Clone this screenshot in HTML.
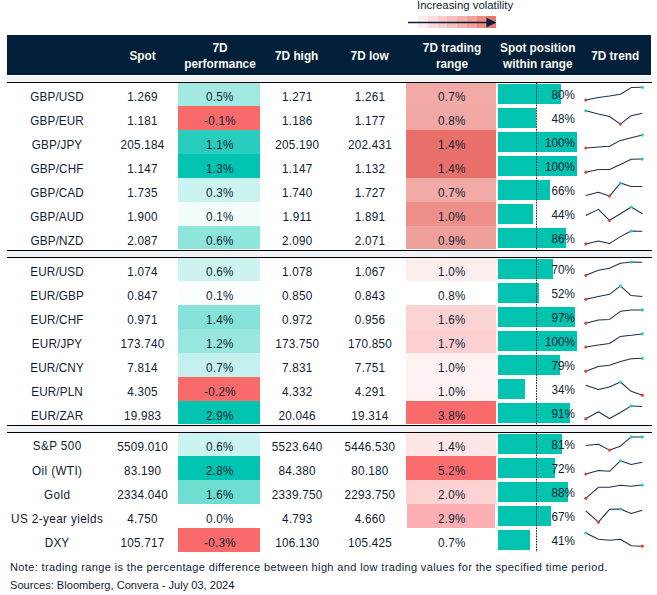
<!DOCTYPE html><html><head><meta charset="utf-8"><style>
html,body{margin:0;padding:0;background:#fff;}
body{width:657px;height:595px;position:relative;overflow:hidden;font-family:"Liberation Sans", sans-serif;color:#0e1d31;}
.a{position:absolute;}
.t{position:absolute;white-space:nowrap;font-size:11.7px;line-height:23.87px;text-align:center;transform:translateX(-50%) scaleY(1.12);}
.h{position:absolute;white-space:nowrap;font-size:11.8px;font-weight:bold;color:#fbfaf5;text-align:center;line-height:15.4px;transform:translateX(-50%) scaleY(1.1);}

</style></head><body>
<div class="a" style="left:417px;top:-1px;font-size:11.4px;line-height:13px;color:#0e1d31;white-space:nowrap;">Increasing volatility</div>
<div class="a" style="left:418.00px;top:16px;width:9.8px;height:12px;background:#fdeeee;"></div>
<div class="a" style="left:427.75px;top:16px;width:9.8px;height:12px;background:#fbdcdb;"></div>
<div class="a" style="left:437.50px;top:16px;width:9.8px;height:12px;background:#f8cdcb;"></div>
<div class="a" style="left:447.25px;top:16px;width:9.8px;height:12px;background:#f6bdba;"></div>
<div class="a" style="left:457.00px;top:16px;width:9.8px;height:12px;background:#f4b0ac;"></div>
<div class="a" style="left:466.75px;top:16px;width:9.8px;height:12px;background:#f2a19c;"></div>
<div class="a" style="left:476.50px;top:16px;width:9.8px;height:12px;background:#ee8b85;"></div>
<div class="a" style="left:486.25px;top:16px;width:9.8px;height:12px;background:#ea746d;"></div>
<svg class="a" style="left:0;top:0" width="657" height="40"><line x1="408" y1="22.5" x2="488" y2="22.5" stroke="#02203a" stroke-width="1.3"/><polygon points="486.5,17.8 496.5,22.5 486.5,27.2" fill="#02203a"/></svg>
<div class="a" style="left:7px;top:35px;width:644px;height:39.6px;background:#02203a;"></div>
<div class="a" style="left:7px;top:75.8px;width:644px;height:5.5px;background:#f0f3f5;"></div>
<div class="h" style="left:142.5px;top:48.5px;">Spot</div>
<div class="h" style="left:220px;top:41.1px;">7D<br>performance</div>
<div class="h" style="left:296.7px;top:48.5px;">7D high</div>
<div class="h" style="left:369.6px;top:48.5px;">7D low</div>
<div class="h" style="left:452px;top:41.1px;">7D trading<br>range</div>
<div class="h" style="left:537.8px;top:41.1px;">Spot position<br>within range</div>
<div class="h" style="left:615.2px;top:48.5px;">7D trend</div>
<div class="a" style="left:178px;top:82.30px;width:82px;height:23.97px;background:#a2e9e2;"></div>
<div class="a" style="left:406px;top:82.30px;width:90px;height:23.97px;background:#f2aaa7;"></div>
<div class="a" style="left:498px;top:84.10px;width:63.20px;height:19.75px;background:#01c4b0;"></div>
<div class="t" style="left:57.08px;top:84.70px;letter-spacing:0.15px;">GBP/USD</div>
<div class="t" style="left:142.62px;top:85.20px;letter-spacing:0.25px;">1.269</div>
<div class="t" style="left:219.93px;top:85.20px;letter-spacing:0.25px;">0.5%</div>
<div class="t" style="left:297.23px;top:85.20px;letter-spacing:0.25px;">1.271</div>
<div class="t" style="left:369.93px;top:85.20px;letter-spacing:0.25px;">1.261</div>
<div class="t" style="left:451.82px;top:85.20px;letter-spacing:0.25px;">0.7%</div>
<div class="t" style="left:auto;right:82px;top:83.30px;transform:scaleY(1.12);text-align:right;">80%</div>
<div class="a" style="left:178px;top:106.17px;width:82px;height:23.97px;background:#f96b6b;"></div>
<div class="a" style="left:406px;top:106.17px;width:90px;height:23.97px;background:#f1a7a3;"></div>
<div class="a" style="left:498px;top:108.07px;width:37.92px;height:19.75px;background:#01c4b0;"></div>
<div class="t" style="left:57.08px;top:108.67px;letter-spacing:0.15px;">GBP/EUR</div>
<div class="t" style="left:142.62px;top:109.17px;letter-spacing:0.25px;">1.181</div>
<div class="t" style="left:219.93px;top:109.17px;letter-spacing:0.25px;">-0.1%</div>
<div class="t" style="left:297.23px;top:109.17px;letter-spacing:0.25px;">1.186</div>
<div class="t" style="left:369.93px;top:109.17px;letter-spacing:0.25px;">1.177</div>
<div class="t" style="left:451.82px;top:109.17px;letter-spacing:0.25px;">0.8%</div>
<div class="t" style="left:auto;right:82px;top:107.17px;transform:scaleY(1.12);text-align:right;">48%</div>
<div class="a" style="left:178px;top:130.04px;width:82px;height:23.97px;background:#29cdbd;"></div>
<div class="a" style="left:406px;top:130.04px;width:90px;height:23.97px;background:#e9706a;"></div>
<div class="a" style="left:498px;top:132.04px;width:79.00px;height:19.75px;background:#01c4b0;"></div>
<div class="t" style="left:57.08px;top:132.64px;letter-spacing:0.15px;">GBP/JPY</div>
<div class="t" style="left:142.62px;top:133.14px;letter-spacing:0.25px;">205.184</div>
<div class="t" style="left:219.93px;top:133.14px;letter-spacing:0.25px;">1.1%</div>
<div class="t" style="left:297.23px;top:133.14px;letter-spacing:0.25px;">205.190</div>
<div class="t" style="left:369.93px;top:133.14px;letter-spacing:0.25px;">202.431</div>
<div class="t" style="left:451.82px;top:133.14px;letter-spacing:0.25px;">1.4%</div>
<div class="t" style="left:auto;right:82px;top:131.04px;transform:scaleY(1.12);text-align:right;">100%</div>
<div class="a" style="left:178px;top:153.91px;width:82px;height:23.97px;background:#01c4b0;"></div>
<div class="a" style="left:406px;top:153.91px;width:90px;height:23.97px;background:#e9706a;"></div>
<div class="a" style="left:498px;top:156.01px;width:79.00px;height:19.75px;background:#01c4b0;"></div>
<div class="t" style="left:57.08px;top:156.61px;letter-spacing:0.15px;">GBP/CHF</div>
<div class="t" style="left:142.62px;top:157.11px;letter-spacing:0.25px;">1.147</div>
<div class="t" style="left:219.93px;top:157.11px;letter-spacing:0.25px;">1.3%</div>
<div class="t" style="left:297.23px;top:157.11px;letter-spacing:0.25px;">1.147</div>
<div class="t" style="left:369.93px;top:157.11px;letter-spacing:0.25px;">1.132</div>
<div class="t" style="left:451.82px;top:157.11px;letter-spacing:0.25px;">1.4%</div>
<div class="t" style="left:auto;right:82px;top:154.91px;transform:scaleY(1.12);text-align:right;">100%</div>
<div class="a" style="left:178px;top:177.78px;width:82px;height:23.97px;background:#cbf3ef;"></div>
<div class="a" style="left:406px;top:177.78px;width:90px;height:23.97px;background:#f2aaa7;"></div>
<div class="a" style="left:498px;top:179.98px;width:52.14px;height:19.75px;background:#01c4b0;"></div>
<div class="t" style="left:57.08px;top:180.58px;letter-spacing:0.15px;">GBP/CAD</div>
<div class="t" style="left:142.62px;top:181.08px;letter-spacing:0.25px;">1.735</div>
<div class="t" style="left:219.93px;top:181.08px;letter-spacing:0.25px;">0.3%</div>
<div class="t" style="left:297.23px;top:181.08px;letter-spacing:0.25px;">1.740</div>
<div class="t" style="left:369.93px;top:181.08px;letter-spacing:0.25px;">1.727</div>
<div class="t" style="left:451.82px;top:181.08px;letter-spacing:0.25px;">0.7%</div>
<div class="t" style="left:auto;right:82px;top:178.78px;transform:scaleY(1.12);text-align:right;">66%</div>
<div class="a" style="left:178px;top:201.65px;width:82px;height:23.97px;background:#f3fcfb;"></div>
<div class="a" style="left:406px;top:201.65px;width:90px;height:23.97px;background:#ee8f89;"></div>
<div class="a" style="left:498px;top:203.95px;width:34.76px;height:19.75px;background:#01c4b0;"></div>
<div class="t" style="left:57.08px;top:204.55px;letter-spacing:0.15px;">GBP/AUD</div>
<div class="t" style="left:142.62px;top:205.05px;letter-spacing:0.25px;">1.900</div>
<div class="t" style="left:219.93px;top:205.05px;letter-spacing:0.25px;">0.1%</div>
<div class="t" style="left:297.23px;top:205.05px;letter-spacing:0.25px;">1.911</div>
<div class="t" style="left:369.93px;top:205.05px;letter-spacing:0.25px;">1.891</div>
<div class="t" style="left:451.82px;top:205.05px;letter-spacing:0.25px;">1.0%</div>
<div class="t" style="left:auto;right:82px;top:202.65px;transform:scaleY(1.12);text-align:right;">44%</div>
<div class="a" style="left:178px;top:225.52px;width:82px;height:23.97px;background:#8ee5dc;"></div>
<div class="a" style="left:406px;top:225.52px;width:90px;height:23.97px;background:#f0a09b;"></div>
<div class="a" style="left:498px;top:227.92px;width:67.94px;height:19.75px;background:#01c4b0;"></div>
<div class="t" style="left:57.08px;top:228.52px;letter-spacing:0.15px;">GBP/NZD</div>
<div class="t" style="left:142.62px;top:229.02px;letter-spacing:0.25px;">2.087</div>
<div class="t" style="left:219.93px;top:229.02px;letter-spacing:0.25px;">0.6%</div>
<div class="t" style="left:297.23px;top:229.02px;letter-spacing:0.25px;">2.090</div>
<div class="t" style="left:369.93px;top:229.02px;letter-spacing:0.25px;">2.071</div>
<div class="t" style="left:451.82px;top:229.02px;letter-spacing:0.25px;">0.9%</div>
<div class="t" style="left:auto;right:82px;top:226.52px;transform:scaleY(1.12);text-align:right;">86%</div>
<div class="a" style="left:178px;top:257.30px;width:82px;height:23.97px;background:#cdf3f0;"></div>
<div class="a" style="left:406px;top:257.30px;width:90px;height:23.97px;background:#fdeeee;"></div>
<div class="a" style="left:498px;top:259.10px;width:55.30px;height:19.75px;background:#01c4b0;"></div>
<div class="t" style="left:57.08px;top:259.70px;letter-spacing:0.15px;">EUR/USD</div>
<div class="t" style="left:142.62px;top:260.20px;letter-spacing:0.25px;">1.074</div>
<div class="t" style="left:219.93px;top:260.20px;letter-spacing:0.25px;">0.6%</div>
<div class="t" style="left:297.23px;top:260.20px;letter-spacing:0.25px;">1.078</div>
<div class="t" style="left:369.93px;top:260.20px;letter-spacing:0.25px;">1.067</div>
<div class="t" style="left:451.82px;top:260.20px;letter-spacing:0.25px;">1.0%</div>
<div class="t" style="left:auto;right:82px;top:258.30px;transform:scaleY(1.12);text-align:right;">70%</div>
<div class="a" style="left:178px;top:281.17px;width:82px;height:23.97px;background:#fafefd;"></div>
<div class="a" style="left:406px;top:281.17px;width:90px;height:23.97px;background:#ffffff;"></div>
<div class="a" style="left:498px;top:283.07px;width:41.08px;height:19.75px;background:#01c4b0;"></div>
<div class="t" style="left:57.08px;top:283.67px;letter-spacing:0.15px;">EUR/GBP</div>
<div class="t" style="left:142.62px;top:284.17px;letter-spacing:0.25px;">0.847</div>
<div class="t" style="left:219.93px;top:284.17px;letter-spacing:0.25px;">0.1%</div>
<div class="t" style="left:297.23px;top:284.17px;letter-spacing:0.25px;">0.850</div>
<div class="t" style="left:369.93px;top:284.17px;letter-spacing:0.25px;">0.843</div>
<div class="t" style="left:451.82px;top:284.17px;letter-spacing:0.25px;">0.8%</div>
<div class="t" style="left:auto;right:82px;top:282.17px;transform:scaleY(1.12);text-align:right;">52%</div>
<div class="a" style="left:178px;top:305.04px;width:82px;height:23.97px;background:#86e3d9;"></div>
<div class="a" style="left:406px;top:305.04px;width:90px;height:23.97px;background:#fcd3d3;"></div>
<div class="a" style="left:498px;top:307.04px;width:76.63px;height:19.75px;background:#01c4b0;"></div>
<div class="t" style="left:57.08px;top:307.64px;letter-spacing:0.15px;">EUR/CHF</div>
<div class="t" style="left:142.62px;top:308.14px;letter-spacing:0.25px;">0.971</div>
<div class="t" style="left:219.93px;top:308.14px;letter-spacing:0.25px;">1.4%</div>
<div class="t" style="left:297.23px;top:308.14px;letter-spacing:0.25px;">0.972</div>
<div class="t" style="left:369.93px;top:308.14px;letter-spacing:0.25px;">0.956</div>
<div class="t" style="left:451.82px;top:308.14px;letter-spacing:0.25px;">1.6%</div>
<div class="t" style="left:auto;right:82px;top:306.04px;transform:scaleY(1.12);text-align:right;">97%</div>
<div class="a" style="left:178px;top:328.91px;width:82px;height:23.97px;background:#98e7df;"></div>
<div class="a" style="left:406px;top:328.91px;width:90px;height:23.97px;background:#fccfd0;"></div>
<div class="a" style="left:498px;top:331.01px;width:79.00px;height:19.75px;background:#01c4b0;"></div>
<div class="t" style="left:57.08px;top:331.61px;letter-spacing:0.15px;">EUR/JPY</div>
<div class="t" style="left:142.62px;top:332.11px;letter-spacing:0.25px;">173.740</div>
<div class="t" style="left:219.93px;top:332.11px;letter-spacing:0.25px;">1.2%</div>
<div class="t" style="left:297.23px;top:332.11px;letter-spacing:0.25px;">173.750</div>
<div class="t" style="left:369.93px;top:332.11px;letter-spacing:0.25px;">170.850</div>
<div class="t" style="left:451.82px;top:332.11px;letter-spacing:0.25px;">1.7%</div>
<div class="t" style="left:auto;right:82px;top:329.91px;transform:scaleY(1.12);text-align:right;">100%</div>
<div class="a" style="left:178px;top:352.78px;width:82px;height:23.97px;background:#c4f1ed;"></div>
<div class="a" style="left:406px;top:352.78px;width:90px;height:23.97px;background:#fdf1f1;"></div>
<div class="a" style="left:498px;top:354.98px;width:62.41px;height:19.75px;background:#01c4b0;"></div>
<div class="t" style="left:57.08px;top:355.58px;letter-spacing:0.15px;">EUR/CNY</div>
<div class="t" style="left:142.62px;top:356.08px;letter-spacing:0.25px;">7.814</div>
<div class="t" style="left:219.93px;top:356.08px;letter-spacing:0.25px;">0.7%</div>
<div class="t" style="left:297.23px;top:356.08px;letter-spacing:0.25px;">7.831</div>
<div class="t" style="left:369.93px;top:356.08px;letter-spacing:0.25px;">7.751</div>
<div class="t" style="left:451.82px;top:356.08px;letter-spacing:0.25px;">1.0%</div>
<div class="t" style="left:auto;right:82px;top:353.78px;transform:scaleY(1.12);text-align:right;">79%</div>
<div class="a" style="left:178px;top:376.65px;width:82px;height:23.97px;background:#f96b6b;"></div>
<div class="a" style="left:406px;top:376.65px;width:90px;height:23.97px;background:#fdf1f1;"></div>
<div class="a" style="left:498px;top:378.95px;width:26.86px;height:19.75px;background:#01c4b0;"></div>
<div class="t" style="left:57.08px;top:379.55px;letter-spacing:0.15px;">EUR/PLN</div>
<div class="t" style="left:142.62px;top:380.05px;letter-spacing:0.25px;">4.305</div>
<div class="t" style="left:219.93px;top:380.05px;letter-spacing:0.25px;">-0.2%</div>
<div class="t" style="left:297.23px;top:380.05px;letter-spacing:0.25px;">4.332</div>
<div class="t" style="left:369.93px;top:380.05px;letter-spacing:0.25px;">4.291</div>
<div class="t" style="left:451.82px;top:380.05px;letter-spacing:0.25px;">1.0%</div>
<div class="t" style="left:auto;right:82px;top:377.65px;transform:scaleY(1.12);text-align:right;">34%</div>
<div class="a" style="left:178px;top:400.52px;width:82px;height:23.97px;background:#01c4b0;"></div>
<div class="a" style="left:406px;top:400.52px;width:90px;height:23.97px;background:#f96b6b;"></div>
<div class="a" style="left:498px;top:402.92px;width:71.89px;height:19.75px;background:#01c4b0;"></div>
<div class="t" style="left:57.08px;top:403.52px;letter-spacing:0.15px;">EUR/ZAR</div>
<div class="t" style="left:142.62px;top:404.02px;letter-spacing:0.25px;">19.983</div>
<div class="t" style="left:219.93px;top:404.02px;letter-spacing:0.25px;">2.9%</div>
<div class="t" style="left:297.23px;top:404.02px;letter-spacing:0.25px;">20.046</div>
<div class="t" style="left:369.93px;top:404.02px;letter-spacing:0.25px;">19.314</div>
<div class="t" style="left:451.82px;top:404.02px;letter-spacing:0.25px;">3.8%</div>
<div class="t" style="left:auto;right:82px;top:401.52px;transform:scaleY(1.12);text-align:right;">91%</div>
<div class="a" style="left:178px;top:432.30px;width:82px;height:23.97px;background:#cbf3ef;"></div>
<div class="a" style="left:406px;top:432.30px;width:90px;height:23.97px;background:#fee6e6;"></div>
<div class="a" style="left:498px;top:433.80px;width:63.99px;height:19.75px;background:#01c4b0;"></div>
<div class="t" style="left:57.20px;top:434.40px;letter-spacing:0.4px;">S&amp;P 500</div>
<div class="t" style="left:142.62px;top:434.90px;letter-spacing:0.25px;">5509.010</div>
<div class="t" style="left:219.93px;top:434.90px;letter-spacing:0.25px;">0.6%</div>
<div class="t" style="left:297.23px;top:434.90px;letter-spacing:0.25px;">5523.640</div>
<div class="t" style="left:369.93px;top:434.90px;letter-spacing:0.25px;">5446.530</div>
<div class="t" style="left:451.82px;top:434.90px;letter-spacing:0.25px;">1.4%</div>
<div class="t" style="left:auto;right:82px;top:433.30px;transform:scaleY(1.12);text-align:right;">81%</div>
<div class="a" style="left:178px;top:456.17px;width:82px;height:23.97px;background:#01c4b0;"></div>
<div class="a" style="left:406px;top:456.17px;width:90px;height:23.97px;background:#fa6b6d;"></div>
<div class="a" style="left:498px;top:457.90px;width:56.88px;height:19.75px;background:#01c4b0;"></div>
<div class="t" style="left:57.20px;top:458.50px;letter-spacing:0.4px;">Oil (WTI)</div>
<div class="t" style="left:142.62px;top:459.00px;letter-spacing:0.25px;">83.190</div>
<div class="t" style="left:219.93px;top:459.00px;letter-spacing:0.25px;">2.8%</div>
<div class="t" style="left:297.23px;top:459.00px;letter-spacing:0.25px;">84.380</div>
<div class="t" style="left:369.93px;top:459.00px;letter-spacing:0.25px;">80.180</div>
<div class="t" style="left:451.82px;top:459.00px;letter-spacing:0.25px;">5.2%</div>
<div class="t" style="left:auto;right:82px;top:457.17px;transform:scaleY(1.12);text-align:right;">72%</div>
<div class="a" style="left:178px;top:480.04px;width:82px;height:23.97px;background:#6fded2;"></div>
<div class="a" style="left:406px;top:480.04px;width:90px;height:23.97px;background:#fdd2d3;"></div>
<div class="a" style="left:498px;top:482.00px;width:69.52px;height:19.75px;background:#01c4b0;"></div>
<div class="t" style="left:57.20px;top:482.60px;letter-spacing:0.4px;">Gold</div>
<div class="t" style="left:142.62px;top:483.10px;letter-spacing:0.25px;">2334.040</div>
<div class="t" style="left:219.93px;top:483.10px;letter-spacing:0.25px;">1.6%</div>
<div class="t" style="left:297.23px;top:483.10px;letter-spacing:0.25px;">2339.750</div>
<div class="t" style="left:369.93px;top:483.10px;letter-spacing:0.25px;">2293.750</div>
<div class="t" style="left:451.82px;top:483.10px;letter-spacing:0.25px;">2.0%</div>
<div class="t" style="left:auto;right:82px;top:481.04px;transform:scaleY(1.12);text-align:right;">88%</div>
<div class="a" style="left:178px;top:503.91px;width:82px;height:23.97px;background:#ffffff;"></div>
<div class="a" style="left:407px;top:503.91px;width:88px;height:23.97px;background:#fbafb2;"></div>
<div class="a" style="left:498px;top:506.10px;width:52.93px;height:19.75px;background:#01c4b0;"></div>
<div class="t" style="left:57.20px;top:506.70px;letter-spacing:0.4px;">US 2-year yields</div>
<div class="t" style="left:142.62px;top:507.20px;letter-spacing:0.25px;">4.750</div>
<div class="t" style="left:219.93px;top:507.20px;letter-spacing:0.25px;">0.0%</div>
<div class="t" style="left:297.23px;top:507.20px;letter-spacing:0.25px;">4.793</div>
<div class="t" style="left:369.93px;top:507.20px;letter-spacing:0.25px;">4.660</div>
<div class="t" style="left:451.82px;top:507.20px;letter-spacing:0.25px;">2.9%</div>
<div class="t" style="left:auto;right:82px;top:504.91px;transform:scaleY(1.12);text-align:right;">67%</div>
<div class="a" style="left:178px;top:527.78px;width:82px;height:23.97px;background:#f96b6b;"></div>
<div class="a" style="left:406px;top:527.78px;width:90px;height:23.97px;background:#ffffff;"></div>
<div class="a" style="left:498px;top:530.20px;width:32.39px;height:19.75px;background:#01c4b0;"></div>
<div class="t" style="left:57.08px;top:530.80px;letter-spacing:0.15px;">DXY</div>
<div class="t" style="left:142.62px;top:531.30px;letter-spacing:0.25px;">105.717</div>
<div class="t" style="left:219.93px;top:531.30px;letter-spacing:0.25px;">-0.3%</div>
<div class="t" style="left:297.23px;top:531.30px;letter-spacing:0.25px;">106.130</div>
<div class="t" style="left:369.93px;top:531.30px;letter-spacing:0.25px;">105.425</div>
<div class="t" style="left:451.82px;top:531.30px;letter-spacing:0.25px;">0.7%</div>
<div class="t" style="left:auto;right:82px;top:528.78px;transform:scaleY(1.12);text-align:right;">41%</div>
<div class="a" style="left:7px;top:81.9px;width:645px;height:1.2px;background:#000;"></div>
<div class="a" style="left:7px;top:249.99px;width:645px;height:7.2px;background:#fff;"></div>
<div class="a" style="left:7px;top:251.19px;width:644px;height:5.4px;background:#f0f3f5;"></div>
<div class="a" style="left:7px;top:250.08999999999997px;width:645px;height:0.9px;background:#000;"></div>
<div class="a" style="left:7px;top:257.09px;width:645px;height:0.9px;background:#000;"></div>
<div class="a" style="left:7px;top:424.99px;width:645px;height:7.2px;background:#fff;"></div>
<div class="a" style="left:7px;top:426.19px;width:644px;height:5.4px;background:#f0f3f5;"></div>
<div class="a" style="left:7px;top:425.09px;width:645px;height:0.9px;background:#000;"></div>
<div class="a" style="left:7px;top:432.09px;width:645px;height:0.9px;background:#000;"></div>
<svg class="a" style="left:0;top:0" width="657" height="595"><line x1="536.5" y1="83" x2="536.5" y2="250" stroke="#02203a" stroke-width="1" stroke-dasharray="1.6,1.1"/><line x1="536.5" y1="258" x2="536.5" y2="425" stroke="#02203a" stroke-width="1" stroke-dasharray="1.6,1.1"/><line x1="536.5" y1="433" x2="536.5" y2="552" stroke="#02203a" stroke-width="1" stroke-dasharray="1.6,1.1"/><polyline points="585.8,100.1 598.4,97.4 609.5,96.0 620.4,94.3 631.2,87.6 642.3,87.3" fill="none" stroke="#1b3148" stroke-width="1.05" stroke-linejoin="round"/><circle cx="585.8" cy="100.1" r="1.6" fill="#e5433a"/><circle cx="642.3" cy="87.3" r="1.6" fill="#2ec9b9"/><polyline points="585.8,110.8 598.4,114.0 609.5,116.5 620.4,124.1 631.2,115.7 642.3,113.2" fill="none" stroke="#1b3148" stroke-width="1.05" stroke-linejoin="round"/><circle cx="585.8" cy="110.8" r="1.6" fill="#2ec9b9"/><circle cx="620.4" cy="124.1" r="1.6" fill="#e5433a"/><polyline points="585.8,148.0 598.4,147.1 609.5,146.3 620.4,140.4 631.2,137.7 642.3,135.1" fill="none" stroke="#1b3148" stroke-width="1.05" stroke-linejoin="round"/><circle cx="585.8" cy="148.0" r="1.6" fill="#e5433a"/><circle cx="642.3" cy="135.1" r="1.6" fill="#2ec9b9"/><polyline points="585.8,172.2 598.4,169.4 609.5,169.4 620.4,164.4 631.2,159.3 642.3,159.1" fill="none" stroke="#1b3148" stroke-width="1.05" stroke-linejoin="round"/><circle cx="585.8" cy="172.2" r="1.6" fill="#e5433a"/><circle cx="642.3" cy="159.1" r="1.6" fill="#2ec9b9"/><polyline points="585.8,195.5 598.4,192.3 609.5,196.1 620.4,183.1 631.2,186.5 642.3,186.5" fill="none" stroke="#1b3148" stroke-width="1.05" stroke-linejoin="round"/><circle cx="609.5" cy="196.1" r="1.6" fill="#e5433a"/><circle cx="620.4" cy="183.1" r="1.6" fill="#2ec9b9"/><polyline points="585.8,215.5 598.4,209.4 609.5,220.3 620.4,213.7 631.2,207.0 642.3,213.7" fill="none" stroke="#1b3148" stroke-width="1.05" stroke-linejoin="round"/><circle cx="609.5" cy="220.3" r="1.6" fill="#e5433a"/><circle cx="631.2" cy="207.0" r="1.6" fill="#2ec9b9"/><polyline points="585.8,243.9 598.4,241.1 609.5,243.6 620.4,236.6 631.2,231.0 642.3,231.2" fill="none" stroke="#1b3148" stroke-width="1.05" stroke-linejoin="round"/><circle cx="585.8" cy="243.9" r="1.6" fill="#e5433a"/><circle cx="631.2" cy="231.0" r="1.6" fill="#2ec9b9"/><polyline points="585.8,275.3 598.4,270.3 609.5,268.2 620.4,263.2 631.2,262.0 642.3,262.2" fill="none" stroke="#1b3148" stroke-width="1.05" stroke-linejoin="round"/><circle cx="585.8" cy="275.3" r="1.6" fill="#e5433a"/><circle cx="631.2" cy="262.0" r="1.6" fill="#2ec9b9"/><polyline points="585.8,299.3 598.4,296.4 609.5,294.3 620.4,285.9 631.2,295.6 642.3,296.4" fill="none" stroke="#1b3148" stroke-width="1.05" stroke-linejoin="round"/><circle cx="585.8" cy="299.3" r="1.6" fill="#e5433a"/><circle cx="620.4" cy="285.9" r="1.6" fill="#2ec9b9"/><polyline points="585.8,323.2 598.4,320.1 609.5,319.4 620.4,311.3 631.2,310.1 642.3,309.9" fill="none" stroke="#1b3148" stroke-width="1.05" stroke-linejoin="round"/><circle cx="585.8" cy="323.2" r="1.6" fill="#e5433a"/><circle cx="642.3" cy="309.9" r="1.6" fill="#2ec9b9"/><polyline points="585.8,347.1 598.4,345.1 609.5,343.5 620.4,336.4 631.2,335.3 642.3,333.9" fill="none" stroke="#1b3148" stroke-width="1.05" stroke-linejoin="round"/><circle cx="585.8" cy="347.1" r="1.6" fill="#e5433a"/><circle cx="642.3" cy="333.9" r="1.6" fill="#2ec9b9"/><polyline points="585.8,371.2 598.4,366.4 609.5,365.2 620.4,361.5 631.2,358.7 642.3,358.3" fill="none" stroke="#1b3148" stroke-width="1.05" stroke-linejoin="round"/><circle cx="585.8" cy="371.2" r="1.6" fill="#e5433a"/><circle cx="642.3" cy="358.3" r="1.6" fill="#2ec9b9"/><polyline points="585.8,385.3 598.4,389.5 609.5,387.0 620.4,382.0 631.2,391.3 642.3,395.2" fill="none" stroke="#1b3148" stroke-width="1.05" stroke-linejoin="round"/><circle cx="620.4" cy="382.0" r="1.6" fill="#2ec9b9"/><circle cx="642.3" cy="395.2" r="1.6" fill="#e5433a"/><polyline points="585.8,418.8 598.4,411.7 609.5,418.5 620.4,412.5 631.2,405.9 642.3,406.4" fill="none" stroke="#1b3148" stroke-width="1.05" stroke-linejoin="round"/><circle cx="585.8" cy="418.8" r="1.6" fill="#e5433a"/><circle cx="631.2" cy="405.9" r="1.6" fill="#2ec9b9"/><polyline points="585.8,445.4 598.4,444.3 609.5,450.1 620.4,446.2 631.2,436.9 642.3,436.9" fill="none" stroke="#1b3148" stroke-width="1.05" stroke-linejoin="round"/><circle cx="609.5" cy="450.1" r="1.6" fill="#e5433a"/><circle cx="631.2" cy="436.9" r="1.6" fill="#2ec9b9"/><circle cx="642.3" cy="436.9" r="1.6" fill="#2ec9b9"/><polyline points="585.8,474.0 598.4,470.4 609.5,471.3 620.4,460.8 631.2,464.5 642.3,462.3" fill="none" stroke="#1b3148" stroke-width="1.05" stroke-linejoin="round"/><circle cx="585.8" cy="474.0" r="1.6" fill="#e5433a"/><circle cx="620.4" cy="460.8" r="1.6" fill="#2ec9b9"/><polyline points="585.8,498.3 598.4,487.3 609.5,487.3 620.4,485.3 631.2,486.3 642.3,485.0" fill="none" stroke="#1b3148" stroke-width="1.05" stroke-linejoin="round"/><circle cx="585.8" cy="498.3" r="1.6" fill="#e5433a"/><circle cx="642.3" cy="485.0" r="1.6" fill="#2ec9b9"/><polyline points="585.8,510.9 598.4,522.2 609.5,509.3 620.4,509.0 631.2,513.4 642.3,510.3" fill="none" stroke="#1b3148" stroke-width="1.05" stroke-linejoin="round"/><circle cx="598.4" cy="522.2" r="1.6" fill="#e5433a"/><circle cx="620.4" cy="509.0" r="1.6" fill="#2ec9b9"/><polyline points="585.8,533.0 598.4,539.3 609.5,540.3 620.4,539.3 631.2,545.8 642.3,546.2" fill="none" stroke="#1b3148" stroke-width="1.05" stroke-linejoin="round"/><circle cx="585.8" cy="533.0" r="1.6" fill="#2ec9b9"/><circle cx="642.3" cy="546.2" r="1.6" fill="#e5433a"/></svg>
<div class="a" style="left:10px;top:558px;font-size:11px;line-height:18px;letter-spacing:0.37px;white-space:nowrap;color:#0e1d31;">Note: trading range is the percentage difference between high and low trading values for the specified time period.</div>
<div class="a" style="left:10px;top:576px;font-size:11.1px;line-height:18px;white-space:nowrap;color:#0e1d31;">Sources: Bloomberg, Convera - July 03, 2024</div>
</body></html>
